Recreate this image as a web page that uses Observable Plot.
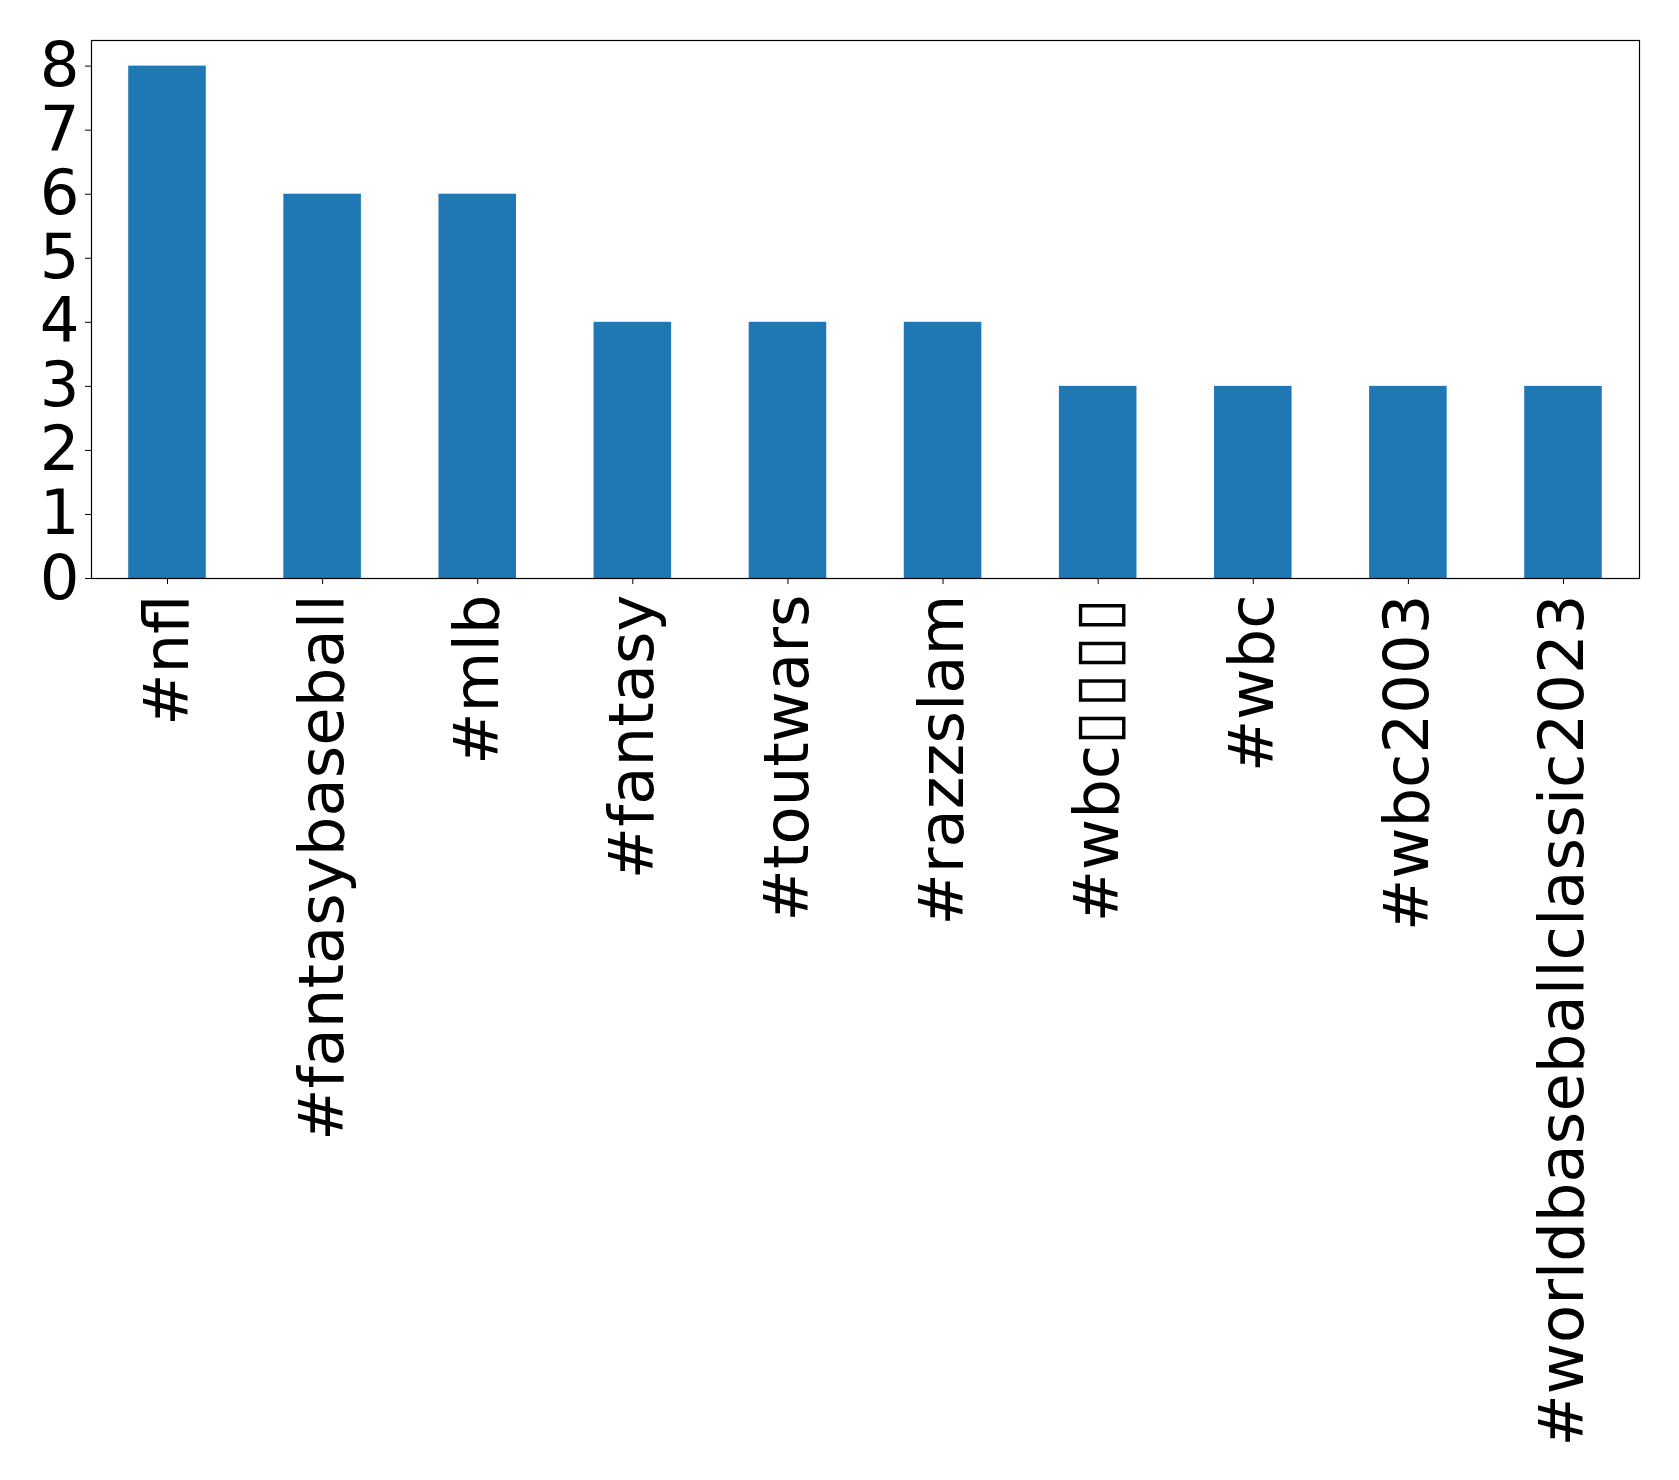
<!DOCTYPE html>
<html>
<head>
<meta charset="utf-8">
<script src="https://cdn.jsdelivr.net/npm/d3@7"></script>
<script src="https://cdn.jsdelivr.net/npm/@observablehq/plot@0.6"></script>
<style>
  html, body { margin: 0; padding: 0; background: #fff; }
  svg { font-family: "DejaVu Sans", sans-serif; }
</style>
</head>
<body>
<div id="chart"></div>
<script>
const hashtags = ["#nfl", "#fantasybaseball", "#mlb", "#fantasy", "#toutwars", "#razzslam", "#wbc\u25AF\u25AF\u25AF\u25AF", "#wbc", "#wbc2003", "#worldbaseballclassic2023"];
const counts = [8, 6, 6, 4, 4, 4, 3, 3, 3, 3];
const yTicks = [0, 1, 2, 3, 4, 5, 6, 7, 8];

const data = hashtags.map((h, i) => ({tag: h, count: counts[i]}));

const chart = Plot.plot({
  width: 1679,
  height: 1480,
  marginLeft: 91,
  marginRight: 40,
  marginTop: 40,
  marginBottom: 902,
  style: {fontFamily: "DejaVu Sans, sans-serif", background: "#fff", color: "#000"},
  x: {domain: hashtags, paddingInner: 0.5, paddingOuter: 0.24, round: false, label: null},
  y: {domain: [0, 8.4], label: null},
  marks: [
    Plot.barY(data, {x: "tag", y: "count", fill: "#1f77b4"}),
    Plot.frame({stroke: "#000", strokeWidth: 1.2}),
    Plot.axisY({ticks: yTicks, tickSize: 6, tickPadding: 6, fontSize: 62.5, label: null, tickFormat: d => String(d)}),
    Plot.axisX({tickSize: 6, tickPadding: 10, fontSize: 62.5, tickRotate: -90, label: null})
  ]
});

// Render the missing-glyph boxes at a tofu-like size
d3.select(chart).selectAll("text").each(function() {
  const t = this.textContent;
  if (t.includes("\u25AF") && this.childElementCount === 0) {
    const parts = t.split(/(\u25AF+)/).filter(s => s.length);
    this.textContent = "";
    for (const p of parts) {
      const ts = document.createElementNS("http://www.w3.org/2000/svg", "tspan");
      ts.textContent = p;
      if (p[0] === "\u25AF") {
        ts.setAttribute("font-size", "61");
        ts.setAttribute("letter-spacing", "4");
      }
      this.appendChild(ts);
    }
  }
});

document.getElementById("chart").appendChild(chart);
</script>
</body>
</html>
